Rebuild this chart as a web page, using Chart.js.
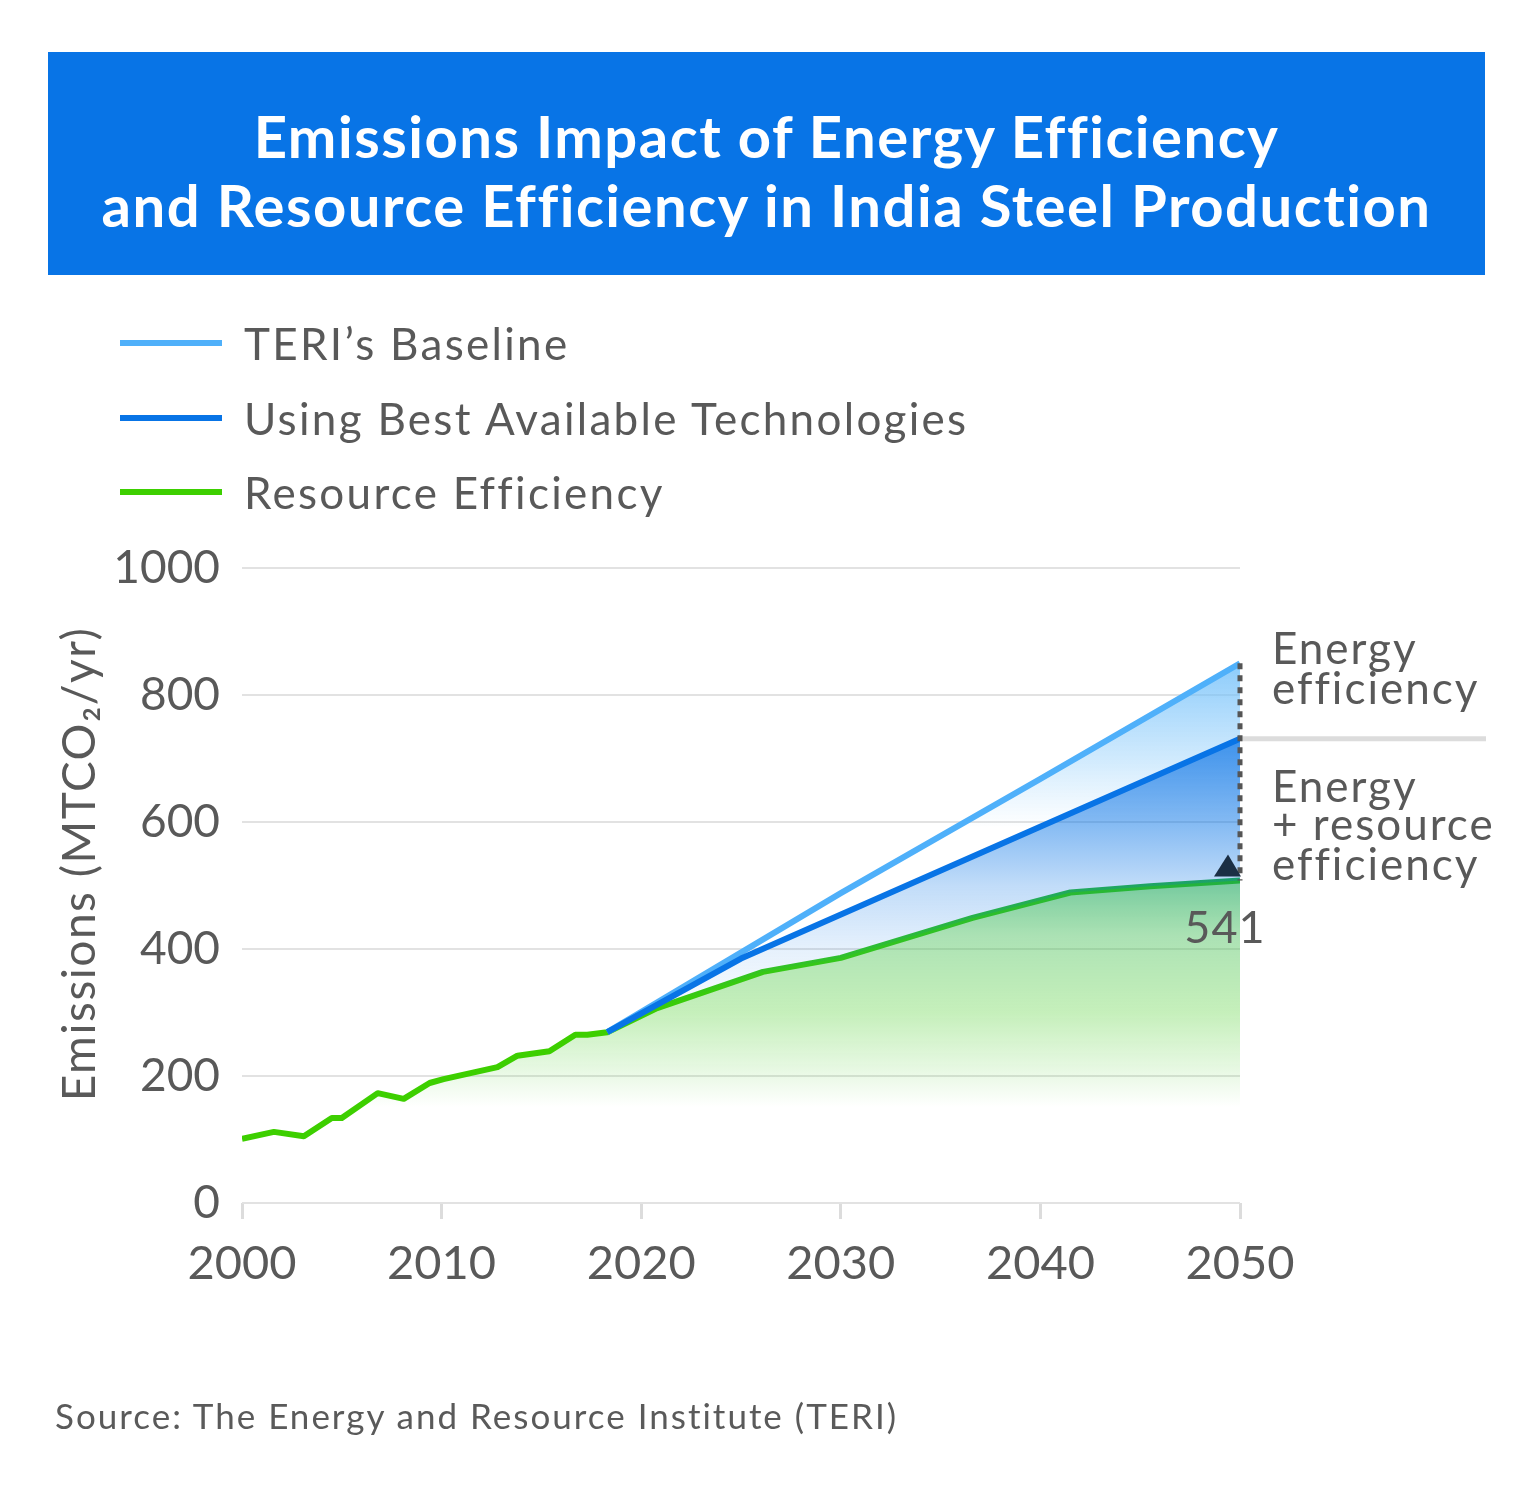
<!DOCTYPE html>
<html>
<head>
<meta charset="utf-8">
<script src="https://cdn.jsdelivr.net/npm/chart.js@4.4.1/dist/chart.umd.min.js"></script>
<style>
  body { margin: 0; background: #fff; font-family: Lato, "Open Sans", sans-serif; }
  #wrap { position: absolute; left: 0; top: 0; width: 1534px; height: 1505px; }
  #title {
    position: absolute; left: 48px; top: 52px; width: 1437px; height: 223px; box-sizing: border-box; padding-top: 12px;
    background: #0874e6; color: #fff; font-weight: 700; font-size: 58px; line-height: 69px; letter-spacing: 1.5px;
    display: flex; align-items: center; justify-content: center; text-align: center; z-index: 2;
  }
  .leg { position: absolute; left: 120px; height: 60px; display: flex; align-items: center; z-index: 2;
    font-size: 44px; letter-spacing: 2.3px; color: #595959; }
  .leg i { display: inline-block; width: 102px; height: 6px; margin-right: 22px; }
  #source { position: absolute; left: 55px; top: 1394px; font-size: 35px; letter-spacing: 2px; color: #5a5a5a; z-index: 2; }
</style>
</head>
<body>
<div id="title">Emissions Impact of Energy Efficiency<br>and Resource Efficiency in India Steel Production</div>
<div class="leg" style="top:313px"><i style="background:#4fb0fa"></i>TERI’s Baseline</div>
<div class="leg" style="top:388px"><i style="background:#0874e6"></i>Using Best Available Technologies</div>
<div class="leg" style="top:462px"><i style="background:#3dcf00"></i>Resource Efficiency</div>
<div id="source">Source: The Energy and Resource Institute (TERI)</div>
<div id="wrap"><canvas id="chart"></canvas></div>

<script>
// values (MtCO2/yr)
let baselineYears = [2018.3, 2030, 2040, 2050]
let baselineValues = [269, 488, 668, 850]

let batYears = [2018.3, 2025, 2050]
let batValues = [269, 385, 731]

let resourceYears = [2000, 2001.6, 2003.1, 2004.5, 2005, 2006.8, 2008.1, 2009.4, 2010.1, 2012.8, 2013.8, 2015.4, 2016.7, 2017.3, 2018.3,
    2020.8, 2026.1, 2030, 2036.6, 2041.5, 2045.5, 2050]
let resourceValues = [101, 112, 105, 134, 134, 173, 164, 189, 195, 214, 232, 239, 265, 265, 269,
    307, 364, 386, 449, 489, 499, 508]

let xTicks = [2000, 2010, 2020, 2030, 2040, 2050]
let yTicks = [0, 200, 400, 600, 800, 1000]

let labelValue = '541'
let textColor = '#595959'
let fontFamily = 'Lato, "Open Sans", sans-serif'

let toPoints = (xs, ys) => xs.map((x, i) => ({ x: x, y: ys[i] }))


// vertical gradient built on y values
function yGradient(chart, stops) {
    let area = chart.chartArea
    if (!area) return 'rgba(0,0,0,0)'
    let y = chart.scales.y
    let top = y.getPixelForValue(stops[0][0])
    let bottom = y.getPixelForValue(stops[stops.length - 1][0])
    let g = chart.ctx.createLinearGradient(0, top, 0, bottom)
    stops.forEach(s => {
        g.addColorStop((y.getPixelForValue(s[0]) - top) / (bottom - top), s[1])
    })
    return g
}


function greenLine(ctx) {
    let chart = ctx.chart
    if (!chart.chartArea) return '#3dcf00'
    let x = chart.scales.x
    let g = chart.ctx.createLinearGradient(x.getPixelForValue(2018), 0, x.getPixelForValue(2050), 0)
    g.addColorStop(0, '#3dcf00')
    g.addColorStop(0.4, '#33c61e')
    g.addColorStop(1, '#22b040')
    return g
}


// right-hand notes, dotted bracket, marker and value
let notes = {
    id: 'notes',
    afterDatasetsDraw(chart) {
        let c = chart.ctx
        let x = chart.scales.x, y = chart.scales.y
        let px = x.getPixelForValue(2050)
        let yBase = y.getPixelForValue(baselineValues[baselineValues.length - 1])
        let yBat = y.getPixelForValue(batValues[batValues.length - 1])
        let yRes = y.getPixelForValue(resourceValues[resourceValues.length - 1])

        c.save()
        // separator
        c.strokeStyle = '#dcdcdc'
        c.lineWidth = 5
        c.beginPath()
        c.moveTo(px, yBat)
        c.lineTo(px + 246, yBat)
        c.stroke()

        // dotted bracket
        c.strokeStyle = '#555'
        c.lineWidth = 5
        c.setLineDash([6, 6])
        c.beginPath()
        c.moveTo(px, yBase)
        c.lineTo(px, yRes)
        c.stroke()
        c.setLineDash([])

        // marker
        c.fillStyle = '#1b2f45'
        c.beginPath()
        c.moveTo(px - 26, yRes - 4)
        c.lineTo(px - 12, yRes - 26)
        c.lineTo(px + 1, yRes - 4)
        c.closePath()
        c.fill()

        c.fillStyle = textColor
        c.textBaseline = 'middle'
        c.textAlign = 'center'
        c.font = '45px ' + fontFamily
        c.letterSpacing = '1px'
        c.fillText(labelValue, px - 15, yRes + 48)

        c.textAlign = 'left'
        c.font = '44px ' + fontFamily
        c.letterSpacing = '2px'
        c.fillText('Energy', px + 32, yBase - 13)
        c.fillText('efficiency', px + 32, yBase + 27)
        c.fillText('Energy', px + 32, yBat + 49)
        c.fillText('+ resource', px + 32, yBat + 87)
        c.fillText('efficiency', px + 32, yBat + 127)

        // axis title
        c.translate(80, chart.chartArea.top + 296)
        c.rotate(-Math.PI / 2)
        c.textAlign = 'center'
        c.font = '46px ' + fontFamily
        c.letterSpacing = '1.5px'
        c.fillText('Emissions (MTCO₂/yr)', 0, 0)
        c.restore()
    }
}


let chart = new Chart(document.getElementById('chart'), {
    type: 'line',
    data: {
        datasets: [{
            label: "TERI’s Baseline",
            data: toPoints(baselineYears, baselineValues),
            borderColor: '#4fb0fa',
            backgroundColor: ctx => yGradient(ctx.chart, [
                [850, 'rgba(110,190,250,0.8)'],
                [700, 'rgba(120,195,250,0.35)'],
                [590, 'rgba(140,205,250,0)']
            ]),
            fill: '+1',
            order: 1
        }, {
            label: 'Using Best Available Technologies',
            data: toPoints(batYears, batValues),
            borderColor: '#0874e6',
            backgroundColor: ctx => yGradient(ctx.chart, [
                [730, 'rgba(8,116,230,0.78)'],
                [600, 'rgba(8,116,230,0.5)'],
                [500, 'rgba(8,116,230,0.25)'],
                [400, 'rgba(8,116,230,0.1)'],
                [300, 'rgba(8,116,230,0.02)']
            ]),
            fill: '+1',
            order: 0
        }, {
            label: 'Resource Efficiency',
            data: toPoints(resourceYears, resourceValues),
            borderColor: greenLine,
            backgroundColor: ctx => yGradient(ctx.chart, [
                [520, 'rgba(50,175,120,0.72)'],
                [420, 'rgba(70,190,90,0.45)'],
                [300, 'rgba(90,210,60,0.35)'],
                [200, 'rgba(90,210,60,0.12)'],
                [150, 'rgba(90,210,60,0)']
            ]),
            fill: 'origin',
            order: 2
        }]
    },
    options: {
        responsive: true,
        maintainAspectRatio: false,
        animation: false,
        layout: { padding: { top: 568, right: 294, bottom: 202, left: 0 } },
        elements: {
            point: { radius: 0 },
            line: { borderWidth: 6, tension: 0, borderJoinStyle: 'round' }
        },
        plugins: {
            legend: { display: false },
            tooltip: { enabled: false }
        },
        scales: {
            x: {
                type: 'linear',
                min: 2000,
                max: 2050,
                afterBuildTicks: s => { s.ticks = xTicks.map(v => ({ value: v })) },
                afterFit: s => { s.height = 100 },
                border: { display: false },
                grid: { drawOnChartArea: false, drawTicks: true, tickLength: 16, color: '#dcdcdc', lineWidth: 3 },
                ticks: { color: textColor, font: { size: 47, family: fontFamily }, padding: 17, maxRotation: 0,
                    callback: v => String(v) }
            },
            y: {
                min: 0,
                max: 1000,
                afterBuildTicks: s => { s.ticks = yTicks.map(v => ({ value: v })) },
                afterFit: s => { s.width = 242 },
                border: { display: false },
                grid: { color: '#e2e2e2', lineWidth: 2, drawTicks: false },
                ticks: { color: textColor, font: { size: 46, family: fontFamily }, padding: 22,
                    callback: v => String(v) }
            }
        }
    },
    plugins: [notes]
})
</script>
</body>
</html>
